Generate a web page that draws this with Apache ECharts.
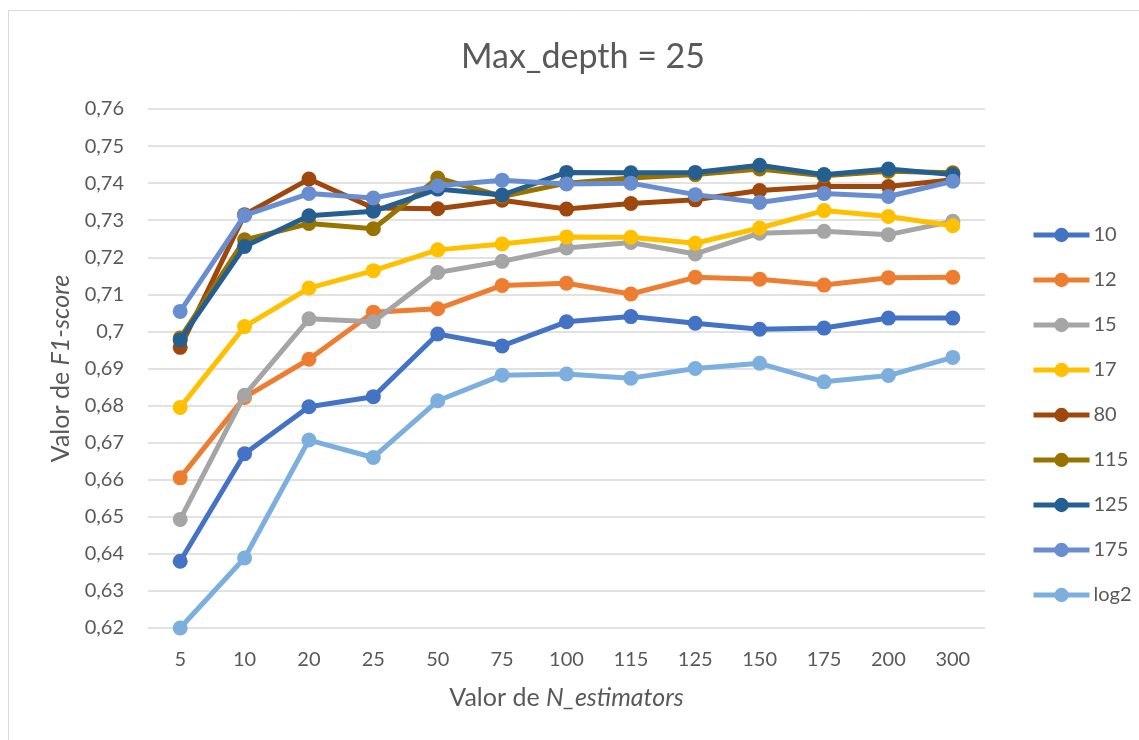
<!DOCTYPE html>
<html>
<head>
<meta charset="utf-8">
<title>Max_depth = 25</title>
<script src="https://cdn.jsdelivr.net/npm/echarts@6/dist/echarts.min.js"></script>
<style>
  html, body { margin: 0; padding: 0; background: #ffffff; }
  #chart { width: 1139px; height: 740px; }
</style>
</head>
<body>
<div id="chart"></div>
<script>
// N_estimators values on the x axis
const categories = ['5', '10', '20', '25', '50', '75', '100', '115', '125', '150', '175', '200', '300'];

// F1-score for each max_features setting
const s10   = [0.638, 0.667, 0.6797, 0.6824, 0.6993, 0.6961, 0.7026, 0.7040, 0.7022, 0.7006, 0.7009, 0.7036, 0.7036];
const s12   = [0.6605, 0.6822, 0.6925, 0.7052, 0.7061, 0.7124, 0.7130, 0.7101, 0.7146, 0.7141, 0.7125, 0.7145, 0.7146];
const s15   = [0.6493, 0.6828, 0.7034, 0.7026, 0.7159, 0.7189, 0.7225, 0.7240, 0.7209, 0.7265, 0.7270, 0.7261, 0.7297];
const s17   = [0.6795, 0.7013, 0.7117, 0.7164, 0.7220, 0.7236, 0.7255, 0.7254, 0.7238, 0.7279, 0.7326, 0.7310, 0.7285];
const s80   = [0.6957, 0.7315, 0.7411, 0.7333, 0.7331, 0.7354, 0.7330, 0.7345, 0.7355, 0.7380, 0.7391, 0.7391, 0.7409];
const s115  = [0.6982, 0.7247, 0.7291, 0.7277, 0.7414, 0.7364, 0.7400, 0.7414, 0.7423, 0.7438, 0.7420, 0.7432, 0.7428];
const s125  = [0.6977, 0.7229, 0.7312, 0.7324, 0.7384, 0.7368, 0.7429, 0.7428, 0.7429, 0.7448, 0.7423, 0.7438, 0.7423];
const s175  = [0.7054, 0.7313, 0.7372, 0.7360, 0.7393, 0.7408, 0.7398, 0.7400, 0.7369, 0.7348, 0.7372, 0.7364, 0.7405];
const sLog2 = [0.620, 0.6389, 0.6707, 0.6660, 0.6813, 0.6882, 0.6885, 0.6874, 0.6900, 0.6914, 0.6864, 0.6881, 0.6930];

const seriesNames = ['10', '12', '15', '17', '80', '115', '125', '175', 'log2'];
const seriesData = [s10, s12, s15, s17, s80, s115, s125, s175, sLog2];
const seriesColors = ['#4472C4', '#ED7D31', '#A5A5A5', '#FFC000', '#9E480E', '#997300', '#255E91', '#698ED0', '#7CAFDD'];

const FONT = 'Lato, "Liberation Sans", sans-serif';
const TEXT = '#595959';

const chart = echarts.init(document.getElementById('chart'), null, { renderer: 'canvas' });

const series = seriesNames.map((name, i) => ({
  name: name,
  type: 'line',
  data: seriesData[i],
  symbol: 'circle',
  symbolSize: 15,
  lineStyle: { width: 5, color: seriesColors[i] },
  itemStyle: { color: seriesColors[i] },
  emphasis: { disabled: true },
  z: 2 + i
}));

const axisNameRich = {
  n: { fontFamily: FONT, fontSize: 25, color: TEXT },
  i: { fontFamily: FONT, fontSize: 25, color: TEXT, fontStyle: 'italic' }
};

chart.setOption({
  animation: false,
  backgroundColor: '#ffffff',
  textStyle: { fontFamily: FONT },
  graphic: [{
    type: 'rect',
    shape: { x: 8.5, y: 10.5, width: 1140, height: 740 },
    style: { fill: 'none', stroke: '#D9D9D9', lineWidth: 1 },
    silent: true
  }],
  title: {
    text: 'Max_depth = 25',
    left: 578,
    textAlign: 'center',
    top: 35,
    textStyle: { fontFamily: FONT, fontSize: 34, fontWeight: 'normal', color: TEXT }
  },
  legend: {
    orient: 'vertical',
    left: 1026,
    top: 220,
    itemWidth: 56,
    itemHeight: 18,
    itemGap: 25,
    data: seriesNames,
    lineStyle: { width: 5 },
    textStyle: { fontFamily: FONT, fontSize: 20, lineHeight: 20, color: TEXT, padding: [0, 0, 0, -1] }
  },
  grid: { left: 148, right: 154, top: 109, bottom: 112, containLabel: false },
  xAxis: {
    type: 'category',
    data: categories,
    boundaryGap: true,
    axisLine: { show: false },
    axisTick: { show: false },
    axisLabel: { fontFamily: FONT, fontSize: 20, color: TEXT, margin: 22 },
    name: '{n|Valor de }{i|N_estimators}',
    nameLocation: 'middle',
    nameGap: 57,
    nameTextStyle: { rich: axisNameRich }
  },
  yAxis: {
    type: 'value',
    min: 0.62,
    max: 0.76,
    interval: 0.01,
    axisLine: { show: false },
    axisTick: { show: false },
    splitLine: { lineStyle: { color: '#D9D9D9', width: 1.5 } },
    axisLabel: {
      fontFamily: FONT, fontSize: 20, color: TEXT, margin: 24,
      formatter: v => String(+v.toFixed(2)).replace('.', ',')
    },
    name: '{n|Valor de }{i|F1-score}',
    nameLocation: 'middle',
    nameGap: 75,
    nameRotate: 90,
    nameTextStyle: { rich: axisNameRich }
  },
  series: series
});
</script>
</body>
</html>
